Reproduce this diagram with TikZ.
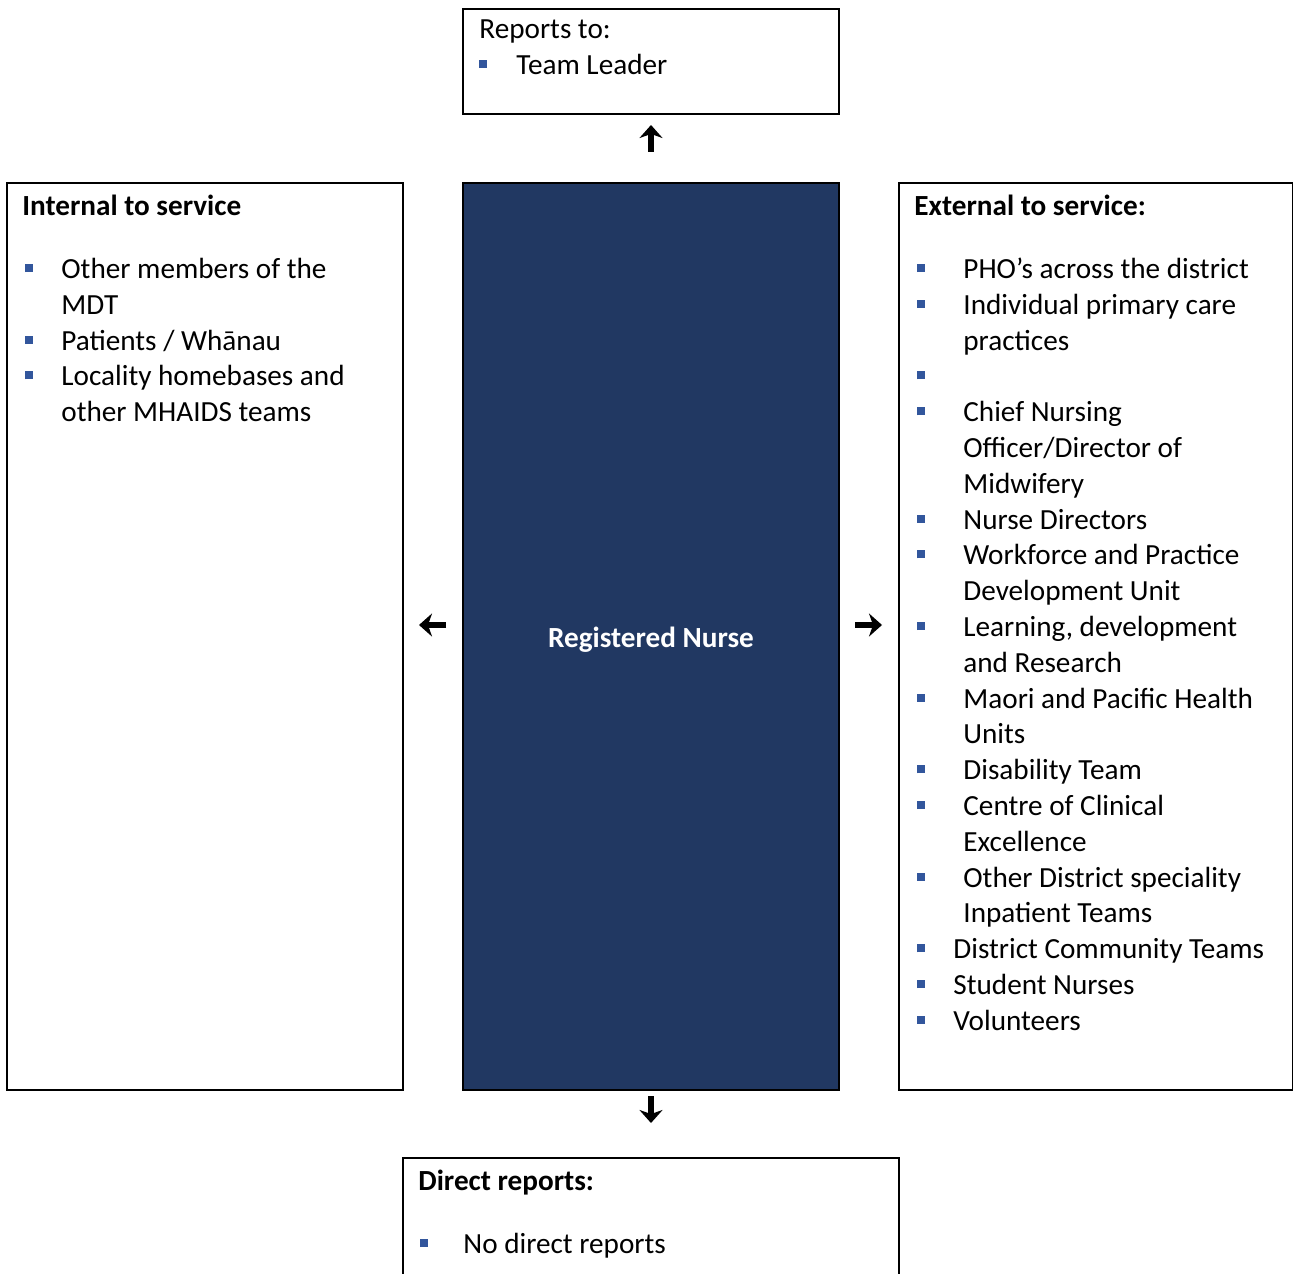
\documentclass[tikz,border=0pt]{standalone}
\usepackage{fontspec}
\setmainfont{Carlito}
\usepackage{xcolor}
\usepackage{tikz}
\usetikzlibrary{arrows.meta}

\definecolor{nurseblue}{RGB}{33,56,98}
\definecolor{bulletblue}{RGB}{50,86,156}
\newcommand{\sqbul}[1][18pt]{\makebox[#1][l]{\raisebox{3.2pt}{\textcolor{bulletblue}{\rule{4pt}{4pt}}}}}
\newcommand{\indt}[1][18pt]{\hspace*{#1}}

\tikzset{
  box/.style={draw=black, line width=1pt, inner sep=0pt},
  txt/.style={inner sep=0pt, align=left, font=\fontsize{14.6}{17.9}\selectfont},
  head/.style={txt, font=\fontsize{14.6}{17.9}\selectfont\bfseries, anchor=base west},
  arr/.style={line width=3pt, -{Stealth[length=6.5pt,width=11.5pt,inset=2pt]}}
}

\begin{document}
\begin{tikzpicture}[x=0.5pt,y=-0.5pt]
    \useasboundingbox (0,0) rectangle (1293,1273);
    \clip (0,0) rectangle (1293,1273);
    % boxes
    \node[box, minimum width=188pt, minimum height=52.5pt] (reports) at (651,61.5) {};
    \node[box, fill=nurseblue, minimum width=188pt, minimum height=453.5pt] (nurse) at (651,636.5) {};
    \node[box, minimum width=198pt, minimum height=453.5pt] (internal) at (205,636.5) {};
    \node[box, minimum width=197pt, minimum height=453.5pt] (external) at (1096,636.5) {};
    \node[box, minimum width=248pt, minimum height=66pt] (direct) at (651,1224) {};
    % title in the middle
    \node[head, anchor=base, text=white] (nurseTxt) at (651,647) {Registered Nurse};
    % reports to
    \node[txt, anchor=north west] (reportsTxt) at (479,13) {\strut Reports to:\\
        \sqbul[18.5pt]Team Leader};
    % internal
    \node[head] (intHead) at (22,215) {Internal to service};
    \node[txt, anchor=north west] (intList) at (25,253) {\strut\sqbul Other members of the\\
        \indt MDT\\
        \sqbul Patients / Whānau\\
        \sqbul Locality homebases and\\
        \indt other MHAIDS teams};
    % external
    \node[head] (extHead) at (914,215) {External to service:};
    \node[txt, anchor=north west] (extList) at (917,253) {\strut\sqbul[23pt]PHO’s across the district\\
        \sqbul[23pt]Individual primary care\\
        \indt[23pt]practices\\
        \sqbul[23pt]\\
        \sqbul[23pt]Chief Nursing\\
        \indt[23pt]Officer/Director of\\
        \indt[23pt]Midwifery\\
        \sqbul[23pt]Nurse Directors\\
        \sqbul[23pt]Workforce and Practice\\
        \indt[23pt]Development Unit\\
        \sqbul[23pt]Learning, development\\
        \indt[23pt]and Research\\
        \sqbul[23pt]Maori and Pacific Health\\
        \indt[23pt]Units\\
        \sqbul[23pt]Disability Team\\
        \sqbul[23pt]Centre of Clinical\\
        \indt[23pt]Excellence\\
        \sqbul[23pt]Other District speciality\\
        \indt[23pt]Inpatient Teams\\
        \sqbul District Community Teams\\
        \sqbul Student Nurses\\
        \sqbul Volunteers};
    % direct reports
    \node[head] (dirHead) at (418,1190) {Direct reports:};
    \node[txt, anchor=north west] (dirList) at (420,1228) {\strut\sqbul[21.5pt]No direct reports};
    % arrows
    \coordinate (upS) at (651,152);
    \coordinate (upE) at (651,125);
    \coordinate (leftS) at (446,625);
    \coordinate (leftE) at (419,625);
    \coordinate (rightS) at (855,625);
    \coordinate (rightE) at (882,625);
    \coordinate (downS) at (651,1096);
    \coordinate (downE) at (651,1123);
    \draw[arr] (upS) -- (upE);
    \draw[arr] (leftS) -- (leftE);
    \draw[arr] (rightS) -- (rightE);
    \draw[arr] (downS) -- (downE);
\end{tikzpicture}
\end{document}
